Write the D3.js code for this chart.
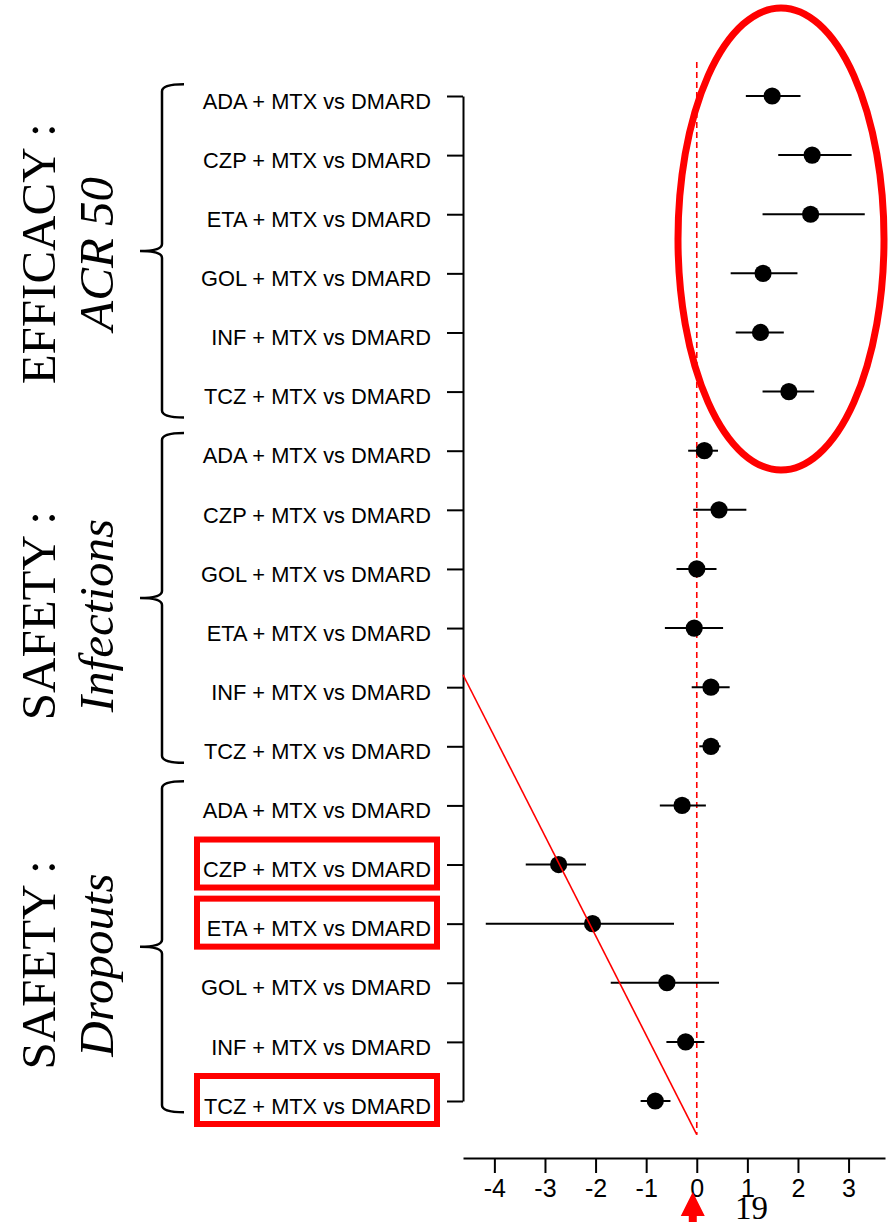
<!DOCTYPE html>
<html><head><meta charset="utf-8">
<script src="https://cdn.jsdelivr.net/npm/d3@7"></script>
<style>body{margin:0;background:#fff}svg{display:block}</style>
</head><body>
<svg id="chart" width="891" height="1222"></svg>
<script>
// ---- data ----
const rowLabels = [
  "ADA + MTX vs DMARD","CZP + MTX vs DMARD","ETA + MTX vs DMARD","GOL + MTX vs DMARD","INF + MTX vs DMARD","TCZ + MTX vs DMARD",
  "ADA + MTX vs DMARD","CZP + MTX vs DMARD","GOL + MTX vs DMARD","ETA + MTX vs DMARD","INF + MTX vs DMARD","TCZ + MTX vs DMARD",
  "ADA + MTX vs DMARD","CZP + MTX vs DMARD","ETA + MTX vs DMARD","GOL + MTX vs DMARD","INF + MTX vs DMARD","TCZ + MTX vs DMARD"
];
const estimates = [1.49, 2.28, 2.25, 1.31, 1.26, 1.82,
                   0.15, 0.44, 0.00, -0.05, 0.28, 0.28,
                   -0.29, -2.73, -2.06, -0.59, -0.22, -0.82];
const ciLow     = [0.97, 1.61, 1.30, 0.67, 0.77, 1.30,
                   -0.17, -0.07, -0.40, -0.63, -0.10, 0.05,
                   -0.73, -3.38, -4.17, -1.70, -0.60, -1.11];
const ciHigh    = [2.05, 3.06, 3.32, 1.99, 1.72, 2.32,
                   0.42, 0.98, 0.39, 0.52, 0.65, 0.47,
                   0.18, -2.19, -0.45, 0.44, 0.15, -0.52];
const groupTitles    = ["EFFICACY :", "SAFETY :", "SAFETY :"];
const groupSubtitles = ["ACR 50", "Infections", "Dropouts"];
const groupBraceSpan = [[-0.2, 5.44], [5.7, 11.28], [11.59, 17.19]]; // in row units
const groupLabelCenter = [2.67, 8.79, 14.70];                         // in row units
const xTicks = [-4, -3, -2, -1, 0, 1, 2, 3];
const highlightedRows = [13, 14, 17];
const pageNumber = "19";

// ---- scales ----
const svg = d3.select("#chart");
const x = d3.scaleLinear().domain([-4.62, 3.72]).range([463, 885]);
const y = d3.scaleLinear().domain([0, 17]).range([96, 1101]);
const sans = "'Liberation Sans', Arial, sans-serif";
const serif = "'Liberation Serif', 'Times New Roman', serif";
const red = "#ff0000";

// reference line at 0
svg.append("line")
  .attr("x1", x(0)).attr("x2", x(0))
  .attr("y1", y(-0.575)).attr("y2", y(17.57))
  .attr("stroke", red).attr("stroke-width", 1.6).attr("stroke-dasharray", "6,4");

// y axis
const yAxis = svg.append("g").attr("transform", `translate(${x.range()[0]},0)`)
  .call(d3.axisLeft(y).tickValues(d3.range(rowLabels.length)).tickSize(16).tickSizeOuter(0)
    .tickPadding(16).tickFormat(i => rowLabels[i]));
yAxis.selectAll("path,line").attr("stroke", "#000").attr("stroke-width", 2);
yAxis.selectAll("text").attr("dy", "0.56em")
  .attr("font-family", sans).attr("font-size", 21.8).attr("fill", "#000");

// x axis
const xAxis = svg.append("g").attr("transform", "translate(0,1158)")
  .call(d3.axisBottom(x).tickValues(xTicks).tickSize(15).tickSizeOuter(0)
    .tickPadding(6).tickFormat(d => String(d)));
xAxis.selectAll("path,line").attr("stroke", "#000").attr("stroke-width", 2);
xAxis.selectAll("text").attr("font-family", sans).attr("font-size", 25).attr("fill", "#000");

// CI lines and points
const rows = d3.range(rowLabels.length);
svg.append("g").selectAll("line").data(rows).join("line")
  .attr("x1", i => x(ciLow[i])).attr("x2", i => x(ciHigh[i]))
  .attr("y1", i => y(i)).attr("y2", i => y(i))
  .attr("stroke", "#000").attr("stroke-width", 2);
svg.append("g").selectAll("circle").data(rows).join("circle")
  .attr("cx", i => x(estimates[i])).attr("cy", i => y(i)).attr("r", 8.6).attr("fill", "#000");

// braces and group labels
groupTitles.forEach((t, g) => {
  const T = y(groupBraceSpan[g][0]), B = y(groupBraceSpan[g][1]), M = (T + B) / 2;
  const xv = 162, xe = 184, xt = 140;
  const p = `M${xe},${T} Q${xv},${T} ${xv},${T + 7} L${xv},${M - 7} Q${xv},${M} ${xt},${M} ` +
            `Q${xv},${M} ${xv},${M + 7} L${xv},${B - 7} Q${xv},${B} ${xe},${B}`;
  svg.append("path").attr("d", p).attr("fill", "none").attr("stroke", "#000").attr("stroke-width", 2.5);
  const c = y(groupLabelCenter[g]);
  svg.append("text").attr("transform", `translate(55,${c}) rotate(-90)`)
    .attr("text-anchor", "middle").attr("font-family", serif).attr("font-size", 49).text(t);
  svg.append("text").attr("transform", `translate(113,${c}) rotate(-90)`)
    .attr("text-anchor", "middle").attr("font-family", serif).attr("font-style", "italic")
    .attr("font-size", 49).text(groupSubtitles[g]);
});

// red annotations
svg.append("ellipse").attr("cx", 781).attr("cy", 239).attr("rx", 103).attr("ry", 231)
  .attr("fill", "none").attr("stroke", red).attr("stroke-width", 7);
svg.append("line")
  .attr("x1", x.range()[0]).attr("y1", y(9.79)).attr("x2", x(0)).attr("y2", y(17.57))
  .attr("stroke", red).attr("stroke-width", 1.6);
svg.append("g").selectAll("rect").data(highlightedRows).join("rect")
  .attr("x", 197).attr("width", 240).attr("y", i => y(i) - 25).attr("height", 48)
  .attr("fill", "none").attr("stroke", red).attr("stroke-width", 6);
// arrow
const ax = x(0) - 4;
svg.append("path")
  .attr("d", `M${ax},1192 L${ax + 12},1216 L${ax + 4},1216 L${ax + 4},1222 L${ax - 4},1222 L${ax - 4},1216 L${ax - 12},1216 Z`)
  .attr("fill", red);
svg.append("text").attr("x", 735).attr("y", 1219).attr("font-family", serif).attr("font-size", 33)
  .attr("fill", "#000").text(pageNumber);
</script>
</body></html>
